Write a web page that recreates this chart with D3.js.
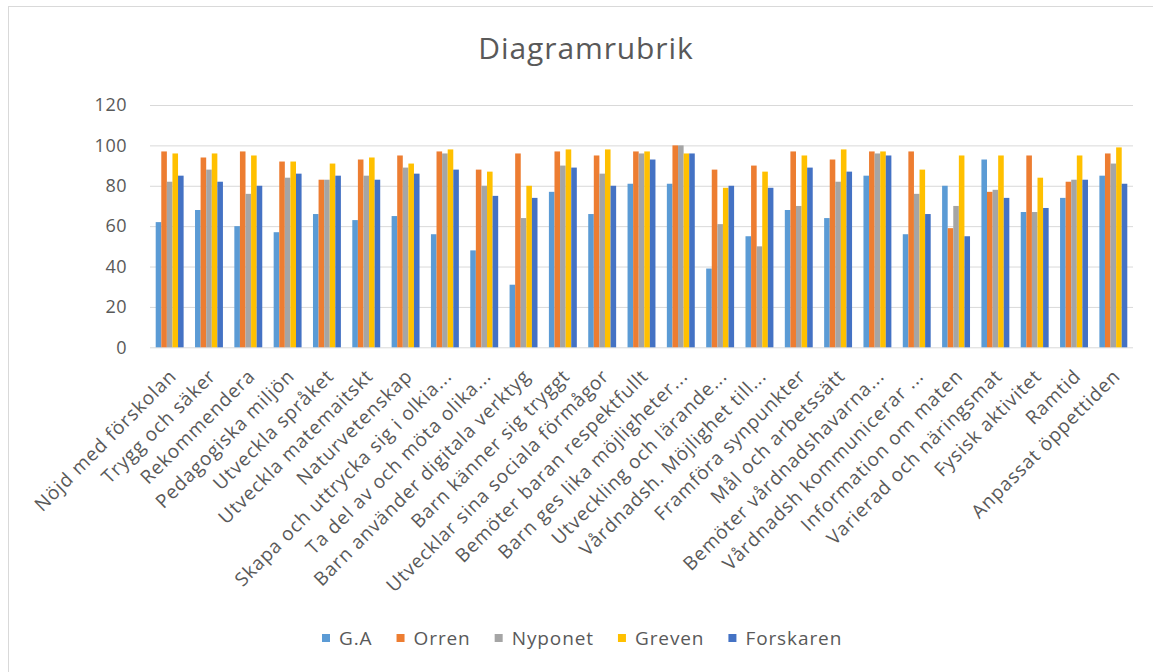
<!DOCTYPE html>
<html>
<head>
<meta charset="utf-8">
<script src="https://cdn.jsdelivr.net/npm/d3@7"></script>
<style>
  body { margin: 0; background: #fff; }
  svg text { font-family: "Open Sans", sans-serif; fill: #595959; }
</style>
</head>
<body>
<svg id="chart" width="1153" height="672"></svg>
<script>
// categories (x axis labels, as shown in the chart)
const categories = [
  "Nöjd med förskolan", "Trygg och säker", "Rekommendera", "Pedagogiska miljön",
  "Utveckla språket", "Utveckla matemaitskt", "Naturvetenskap",
  "Skapa och uttrycka sig i olkia...", "Ta del av och möta olika...",
  "Barn använder digitala verktyg", "Barn känner sig tryggt",
  "Utvecklar sina sociala förmågor", "Bemöter baran respektfullt",
  "Barn ges lika möjligheter...", "Utveckling och lärande...",
  "Vårdnadsh. Möjlighet till...", "Framföra synpunkter", "Mål och arbetssätt",
  "Bemöter vårdnadshavarna...", "Vårdnadsh kommunicerar ...",
  "Information om maten", "Varierad och näringsmat", "Fysisk aktivitet",
  "Ramtid", "Anpassat öppettiden"
];

const seriesNames = ["G.A", "Orren", "Nyponet", "Greven", "Forskaren"];
const seriesColors = ["#5B9BD5", "#ED7D31", "#A5A5A5", "#FFC000", "#4472C4"];

// values per series, same order as categories
const ga        = [62, 68, 60, 57, 66, 63, 65, 56, 48, 31, 77, 66, 81, 81, 39, 55, 68, 64, 85, 56, 80, 93, 67, 74, 85];
const orren     = [97, 94, 97, 92, 83, 93, 95, 97, 88, 96, 97, 95, 97, 100, 88, 90, 97, 93, 97, 97, 59, 77, 95, 82, 96];
const nyponet   = [82, 88, 76, 84, 83, 85, 89, 96, 80, 64, 90, 86, 96, 100, 61, 50, 70, 82, 96, 76, 70, 78, 67, 83, 91];
const greven    = [96, 96, 95, 92, 91, 94, 91, 98, 87, 80, 98, 98, 97, 96, 79, 87, 95, 98, 97, 88, 95, 95, 84, 95, 99];
const forskaren = [85, 82, 80, 86, 85, 83, 86, 88, 75, 74, 89, 80, 93, 96, 80, 79, 89, 87, 95, 66, 55, 74, 69, 83, 81];

const yTicks = [0, 20, 40, 60, 80, 100, 120];

const seriesValues = [ga, orren, nyponet, greven, forskaren];

const svg = d3.select("#chart");

// chart border
svg.append("rect")
  .attr("x", 8.5).attr("y", 6.5)
  .attr("width", 1170).attr("height", 700)
  .attr("fill", "#fff")
  .attr("stroke", "#d9d9d9");

// title
svg.append("text")
  .attr("x", 586).attr("y", 59)
  .attr("text-anchor", "middle")
  .style("font-size", "30px")
  .style("letter-spacing", "0.9px")
  .text("Diagramrubrik");

const plotLeft = 150, plotRight = 1133, plotTop = 105, plotBottom = 347.3;

const x0 = d3.scaleBand()
  .domain(categories)
  .range([plotLeft, plotRight])
  .paddingInner(0.29)
  .paddingOuter(0.145);

const x1 = d3.scaleBand()
  .domain(seriesNames)
  .range([0, x0.bandwidth()]);

const y = d3.scaleLinear().domain([0, 120]).range([plotBottom, plotTop]);

// gridlines + y labels
const yAxis = svg.append("g")
  .attr("transform", `translate(${plotLeft},0)`)
  .call(d3.axisLeft(y).tickValues(yTicks).tickSize(-(plotRight - plotLeft)).tickPadding(23));
yAxis.select(".domain").remove();
yAxis.selectAll(".tick line").attr("stroke", "#d9d9d9");
yAxis.selectAll(".tick text")
  .style("font-size", "18px")
  .style("letter-spacing", "0.5px")
  .attr("fill", "#595959");

// bars
const groups = svg.append("g").selectAll("g")
  .data(categories)
  .join("g")
  .attr("transform", d => `translate(${x0(d)},0)`);

groups.selectAll("rect")
  .data((d, i) => seriesNames.map((s, k) => ({ s, v: seriesValues[k][i], c: seriesColors[k] })))
  .join("rect")
  .attr("x", d => x1(d.s))
  .attr("width", x1.bandwidth())
  .attr("y", d => y(d.v))
  .attr("height", d => y(0) - y(d.v))
  .attr("fill", d => d.c);

// x axis labels, rotated
const xAxis = svg.append("g")
  .attr("transform", `translate(0,${plotBottom})`)
  .call(d3.axisBottom(x0).tickSize(0).tickPadding(0));
xAxis.select(".domain").remove();
xAxis.selectAll(".tick text")
  .style("font-size", "19px")
  .style("letter-spacing", "0.9px")
  .attr("fill", "#595959")
  .attr("text-anchor", "end")
  .attr("dy", null)
  .attr("y", 0)
  .attr("transform", "translate(8,30) rotate(-45)");

// legend
const legend = svg.append("g").attr("transform", "translate(0,638)");
let lx = 322;
seriesNames.forEach((name, k) => {
  legend.append("rect")
    .attr("x", lx).attr("y", -4)
    .attr("width", 8).attr("height", 8)
    .attr("fill", seriesColors[k]);
  const t = legend.append("text")
    .attr("x", lx + 17).attr("y", 0)
    .attr("dy", "0.35em")
    .style("font-size", "19px")
    .style("letter-spacing", "0.9px")
    .text(name);
  lx += 17 + t.node().getComputedTextLength() + 24;
});
</script>
</body>
</html>
